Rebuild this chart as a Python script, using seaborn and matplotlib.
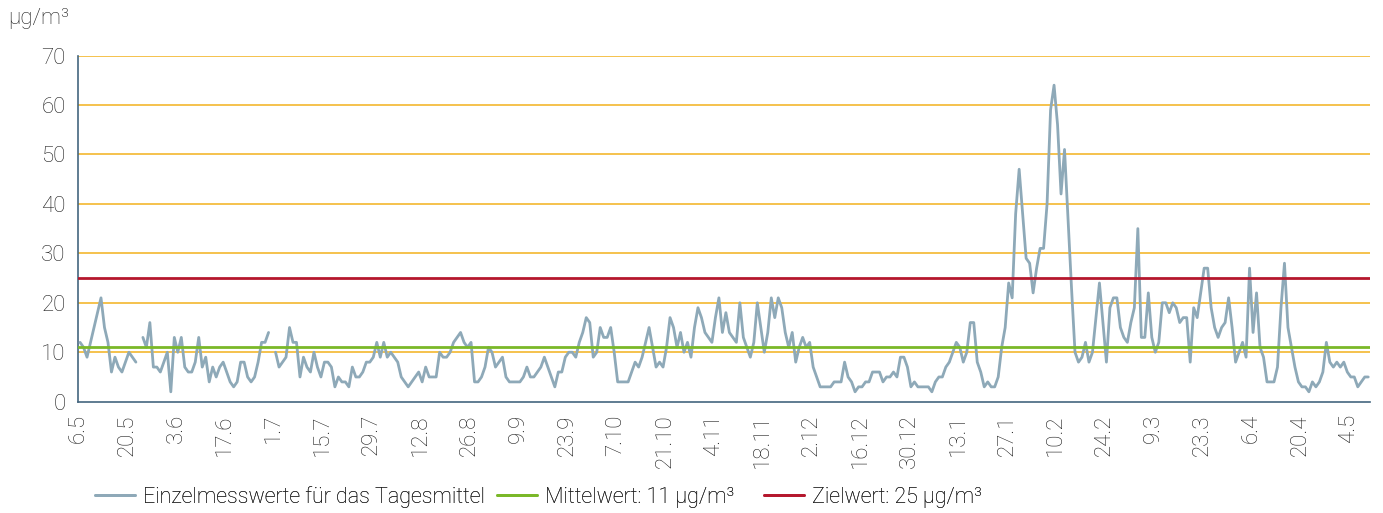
import numpy as np
import pandas as pd
import matplotlib
matplotlib.use("Agg")
import matplotlib.pyplot as plt
from matplotlib.lines import Line2D
import seaborn as sns

# ---------------- data ----------------
nan = np.nan
# daily means from 6.5 (index 0) to 10.5 of the following year
values = [
    12, 11, 9, 12, 15, 18, 21, 15, 12, 6, 9, 7, 6, 8,
    10, 9, 8, nan, 13, 11, 16, 7, 7, 6, 8, 10, 2, 13,
    10, 13, 7, 6, 6, 8, 13, 7, 9, 4, 7, 5, 7, 8,
    6, 4, 3, 4, 8, 8, 5, 4, 5, 8, 12, 12, 14, nan,
    10, 7, 8, 9, 15, 12, 12, 5, 9, 7, 6, 10, 7, 5,
    8, 8, 7, 3, 5, 4, 4, 3, 7, 5, 5, 6, 8, 8,
    9, 12, 9, 12, 9, 10, 9, 8, 5, 4, 3, 4, 5, 6,
    4, 7, 5, 5, 5, 10, 9, 9, 10, 12, 13, 14, 12, 11,
    12, 4, 4, 5, 7, 11, 10, 7, 8, 9, 5, 4, 4, 4,
    4, 5, 7, 5, 5, 6, 7, 9, 7, 5, 3, 6, 6, 9,
    10, 10, 9, 12, 14, 17, 16, 9, 10, 15, 13, 13, 15, 10,
    4, 4, 4, 4, 6, 8, 7, 9, 12, 15, 11, 7, 8, 7,
    11, 17, 15, 11, 14, 10, 12, 9, 15, 19, 17, 14, 13, 12,
    17, 21, 14, 18, 14, 13, 12, 20, 13, 11, 9, 12, 20, 15,
    10, 14, 21, 17, 21, 19, 14, 11, 14, 8, 11, 13, 11, 12,
    7, 5, 3, 3, 3, 3, 4, 4, 4, 8, 5, 4, 2, 3,
    3, 4, 4, 6, 6, 6, 4, 5, 5, 6, 5, 9, 9, 7,
    3, 4, 3, 3, 3, 3, 2, 4, 5, 5, 7, 8, 10, 12,
    11, 8, 10, 16, 16, 8, 6, 3, 4, 3, 3, 5, 11, 15,
    24, 21, 38, 47, 38, 29, 28, 22, 27, 31, 31, 40, 59, 64,
    56, 42, 51, 37, 23, 10, 8, 9, 12, 8, 10, 17, 24, 16,
    8, 19, 21, 21, 15, 13, 12, 16, 19, 35, 13, 13, 22, 13,
    10, 12, 20, 20, 18, 20, 19, 16, 17, 17, 8, 19, 17, 22,
    27, 27, 19, 15, 13, 15, 16, 21, 15, 8, 10, 12, 9, 27,
    14, 22, 11, 9, 4, 4, 4, 7, 19, 28, 15, 11, 7, 4,
    3, 3, 2, 4, 3, 4, 6, 12, 8, 7, 8, 7, 8, 6,
    5, 5, 3, 4, 5, 5,
]
tick_labels = ["6.5", "20.5", "3.6", "17.6", "1.7", "15.7", "29.7", "12.8",
               "26.8", "9.9", "23.9", "7.10", "21.10", "4.11", "18.11", "2.12",
               "16.12", "30.12", "13.1", "27.1", "10.2", "24.2", "9.3", "23.3",
               "6.4", "20.4", "4.5"]
y_ticks = [0, 10, 20, 30, 40, 50, 60, 70]
mean_value = 11
target_value = 25
labels = ["Einzelmesswerte für das Tagesmittel",
          "Mittelwert: 11 µg/m³",
          "Zielwert: 25 µg/m³"]

# ---------------- styling ----------------
c_line = "#8ea9b8"
c_mean = "#7ab828"
c_target = "#b5172d"
c_grid = "#f2b11c"
c_axis = "#44667f"
c_text = "#1e1e1e"
fs = 16
fs_leg = 15.5

sns.set_theme(style="white")
plt.rcParams["font.family"] = ["Roboto", "DejaVu Sans"]
plt.rcParams["font.weight"] = "light"

n = len(values)
day = np.arange(n)
vals = np.array(values, dtype=float)
seg = np.cumsum(np.isnan(vals))
df = pd.DataFrame({"x": day + 0.5, "v": vals, "seg": seg}).dropna()

fig = plt.figure(figsize=(13.83, 5.13), dpi=100)
ax = fig.add_axes([78.3 / 1383, 1 - 401.7 / 513, (1370 - 78.3) / 1383, (401.7 - 55.5) / 513])

for yv in y_ticks[1:]:
    ax.axhline(yv, color=c_grid, lw=1.1, zorder=1)

sns.lineplot(data=df, x="x", y="v", units="seg", estimator=None,
             color=c_line, lw=2.0, ax=ax, zorder=3, legend=False)
ax.axhline(mean_value, color=c_mean, lw=2.0, zorder=4)
ax.axhline(target_value, color=c_target, lw=2.0, zorder=4)

ax.set_xlim(0, n)
ax.set_ylim(0, 70)
ax.set_yticks(y_ticks)
ax.set_yticklabels([str(t) for t in y_ticks], fontsize=fs, color=c_text, fontweight="light")
ax.set_xticks(np.arange(len(tick_labels)) * 14)
ax.set_xticklabels(tick_labels, rotation=90, fontsize=fs, color=c_text, fontweight="light")
ax.set_xlabel("")
ax.set_ylabel("")

for s in ["top", "right"]:
    ax.spines[s].set_visible(False)
for s in ["left", "bottom"]:
    ax.spines[s].set_color(c_axis)
    ax.spines[s].set_linewidth(1.2)
ax.tick_params(axis="both", which="both", direction="out", length=6,
               width=1.2, color=c_axis, pad=3)

fig.text(8 / 1383, 1 - 19 / 513, "µg/m³", fontsize=fs, color=c_text,
         ha="left", va="center", fontweight="light")

colors = [c_line, c_mean, c_target]
legend_x = [95, 497, 764]
for col, lab, lx in zip(colors, labels, legend_x):
    leg = fig.legend([Line2D([], [], color=col, lw=2.0)], [lab], loc="center left",
                     bbox_to_anchor=(lx / 1383, 1 - 497 / 513), frameon=False,
                     handlelength=1.85, handletextpad=0.38, borderaxespad=0, borderpad=0,
                     labelcolor=c_text,
                     prop={"size": fs_leg, "weight": "light", "family": ["Roboto", "DejaVu Sans"]})
    fig.add_artist(leg)

fig.savefig("out.png", dpi=100)
